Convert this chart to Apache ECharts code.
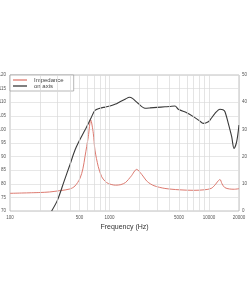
<!DOCTYPE html>
<html><head><meta charset="utf-8">
<script src="https://cdn.jsdelivr.net/npm/echarts@6/dist/echarts.min.js"></script>
<style>html,body{margin:0;padding:0;background:#fff}#c{width:247px;height:296px}</style>
</head><body><div id="c"></div>
<script>
// Frequency response (on axis, dB) - left axis
const splFreq = [262, 300, 350, 400, 450, 500, 567, 620, 650, 714, 802, 900, 1012, 1150, 1274, 1450, 1581, 1700, 1932, 2273, 2551, 3000, 3609, 4000, 4548, 4911, 5966, 6952, 8000, 8752, 9834, 10500, 11482, 12885, 13800, 14459, 15608, 16887, 17810, 18950, 20000];
const splDb   = [70, 74, 81, 87, 92.4, 96, 99.8, 102.5, 104.1, 107, 107.8, 108.2, 108.6, 109.3, 110.2, 111.2, 111.8, 111.4, 109.6, 107.8, 107.9, 108.1, 108.3, 108.4, 108.6, 107.4, 106.1, 104.7, 103.2, 102.2, 102.8, 104, 105.9, 107.4, 107.2, 106.5, 102.2, 97.3, 93, 95.5, 101.6];
// Impedance (ohm) - right axis
const impFreq = [100, 200, 250, 320, 400, 450, 505, 540, 567, 612, 647, 687, 714, 771, 834, 900, 972, 1150, 1300, 1450, 1650, 1875, 2100, 2400, 2800, 3600, 5000, 7000, 9000, 10500, 11500, 12300, 12885, 13500, 14400, 16000, 18000, 20000];
const impOhm  = [6.5, 6.8, 7.0, 7.5, 8.1, 9.2, 12.0, 15.5, 20, 27.3, 33.5, 28.6, 22.4, 16.3, 12.6, 11.0, 10.1, 9.5, 9.7, 10.5, 12.8, 15.3, 13.5, 10.8, 9.3, 8.3, 7.8, 7.6, 7.8, 8.3, 9.6, 11.0, 11.6, 10.0, 8.6, 8.1, 8.0, 8.2];
// Axis ticks
const xTickLabels = [100, 500, 1000, 5000, 10000, 20000];
const xGridLines = [200, 300, 400, 500, 600, 700, 800, 900, 1000, 2000, 3000, 4000, 5000, 6000, 7000, 8000, 9000, 10000, 20000];
const seriesNames = ['Impedance', 'on axis'];

const chart = echarts.init(document.getElementById('c'), null, {renderer: 'canvas'});
const toPairs = (xs, ys) => xs.map((x, i) => [x, ys[i]]);
chart.setOption({
  animation: false,
  backgroundColor: '#fff',
  grid: {left: 10, right: 8, top: 75, height: 136, outerBoundsMode: 'none', containLabel: false,
         show: true, borderColor: '#b0b0b0', borderWidth: 0.8, backgroundColor: 'transparent'},
  legend: {
    data: seriesNames, orient: 'vertical', left: 10, top: 75,
    icon: 'rect', itemWidth: 14, itemHeight: 1.3, itemGap: 0,
    padding: [2, 10, 2, 3], borderColor: '#999', borderWidth: 0.7, backgroundColor: '#fff',
    textStyle: {fontSize: 6, color: '#444', fontFamily: 'Liberation Sans', lineHeight: 6, padding: [0, 0, 0, 2]}
  },
  xAxis: {
    type: 'log', logBase: 10, min: 100, max: 20000,
    name: 'Frequency (Hz)', nameLocation: 'middle', nameGap: 13,
    nameTextStyle: {fontSize: 7, color: '#333', fontFamily: 'Liberation Sans'},
    axisLine: {show: false}, axisTick: {show: false},
    splitLine: {show: false},
    axisLabel: {customValues: xTickLabels, formatter: v => String(Math.round(v)), fontSize: 4.5, color: '#555', margin: 4, fontFamily: 'Liberation Sans'}
  },
  yAxis: [
    {type: 'value', min: 70, max: 120, interval: 5, position: 'left',
     axisLine: {show: false}, axisTick: {show: false},
     splitLine: {show: true, lineStyle: {color: '#dcdcdc', width: 0.7}},
     axisLabel: {fontSize: 4.5, color: '#555', margin: 4, fontFamily: 'Liberation Sans'}},
    {type: 'value', min: 0, max: 50, interval: 10, position: 'right',
     axisLine: {show: false}, axisTick: {show: false}, splitLine: {show: false},
     axisLabel: {fontSize: 4.5, color: '#555', margin: 3, fontFamily: 'Liberation Sans'}}
  ],
  series: [
    {name: seriesNames[0], type: 'line', yAxisIndex: 1, data: toPairs(impFreq, impOhm),
     showSymbol: false, smooth: 0.3, color: '#dd7a70', lineStyle: {width: 1, color: '#dd7a70'}, z: 3,
     markLine: {silent: true, symbol: 'none', label: {show: false}, animation: false,
       lineStyle: {color: '#d8d8d8', width: 0.7, type: 'solid'},
       data: xGridLines.map(v => ({xAxis: v}))}},
    {name: seriesNames[1], type: 'line', yAxisIndex: 0, data: toPairs(splFreq, splDb),
     showSymbol: false, smooth: 0.3, color: '#3a3a3a', lineStyle: {width: 1.1, color: '#3a3a3a'}, z: 4}
  ]
});
</script></body></html>
